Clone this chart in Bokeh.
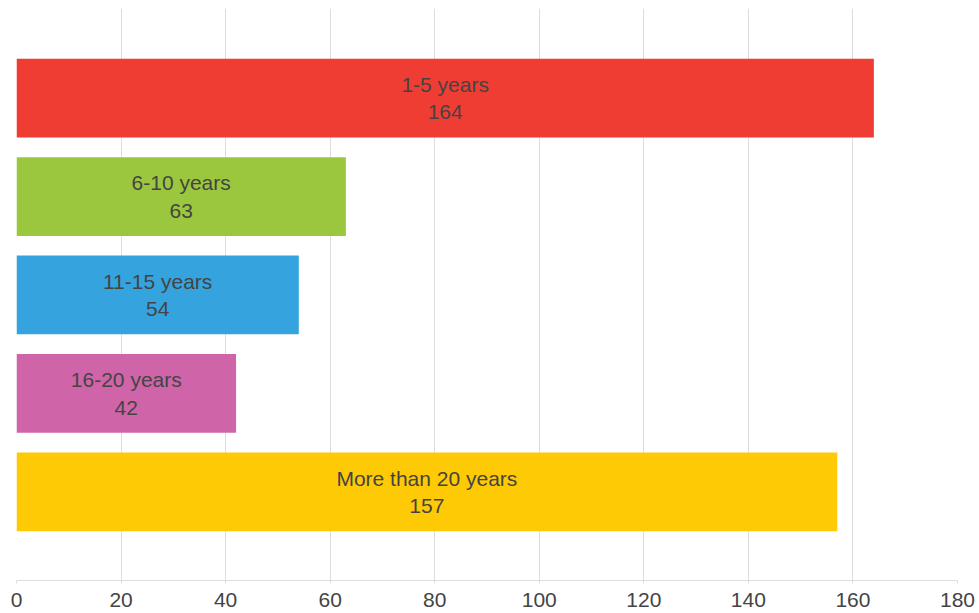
from bokeh.plotting import figure
from bokeh.models import Range1d, FixedTicker, ColumnDataSource
from bokeh.core.properties import value
from bokeh.embed import file_html
from bokeh.resources import INLINE

categories = ["1-5 years", "6-10 years", "11-15 years", "16-20 years", "More than 20 years"]
counts = [164, 63, 54, 42, 157]
colors = ["#EF3D33", "#9BC73F", "#34A3DE", "#CF64A8", "#FECA05"]
x_ticks = [0, 20, 40, 60, 80, 100, 120, 140, 160, 180]

pos = [i + 1 for i in range(len(categories))]
src = ColumnDataSource(dict(
    y=pos,
    right=counts,
    color=colors,
    mid=[c / 2 for c in counts],
    label=[f"{c}\n{n}" for c, n in zip(categories, counts)],
))

p = figure(width=976, height=609, output_backend="svg", toolbar_location=None,
           x_range=Range1d(0, 180), y_range=Range1d(5.9, 0.09),
           min_border_left=16, min_border_right=19, min_border_top=8, min_border_bottom=0)
p.outline_line_color = None
p.hbar(y="y", left=0, right="right", height=0.8, fill_color="color", line_color=None, source=src)
p.text(x="mid", y="y", text="label", source=src, text_align="center", text_baseline="middle",
       text_font=value("Liberation Sans"), text_font_size="21px", text_color="#444444",
       text_line_height=1.2)

p.yaxis.visible = False
p.ygrid.grid_line_color = None
p.xgrid.grid_line_color = "#DDDDDD"
p.xgrid.ticker = FixedTicker(ticks=x_ticks)
xa = p.xaxis[0]
xa.ticker = FixedTicker(ticks=x_ticks)
xa.minor_tick_line_color = None
xa.axis_line_color = "#DDDDDD"
xa.major_tick_line_color = "#DDDDDD"
xa.major_tick_out = 3
xa.major_tick_in = 0
xa.major_label_standoff = 9
xa.major_label_text_font = "Liberation Sans"
xa.major_label_text_font_size = "21px"
xa.major_label_text_color = "#444444"

open("out.html", "w").write(file_html(p, INLINE))
